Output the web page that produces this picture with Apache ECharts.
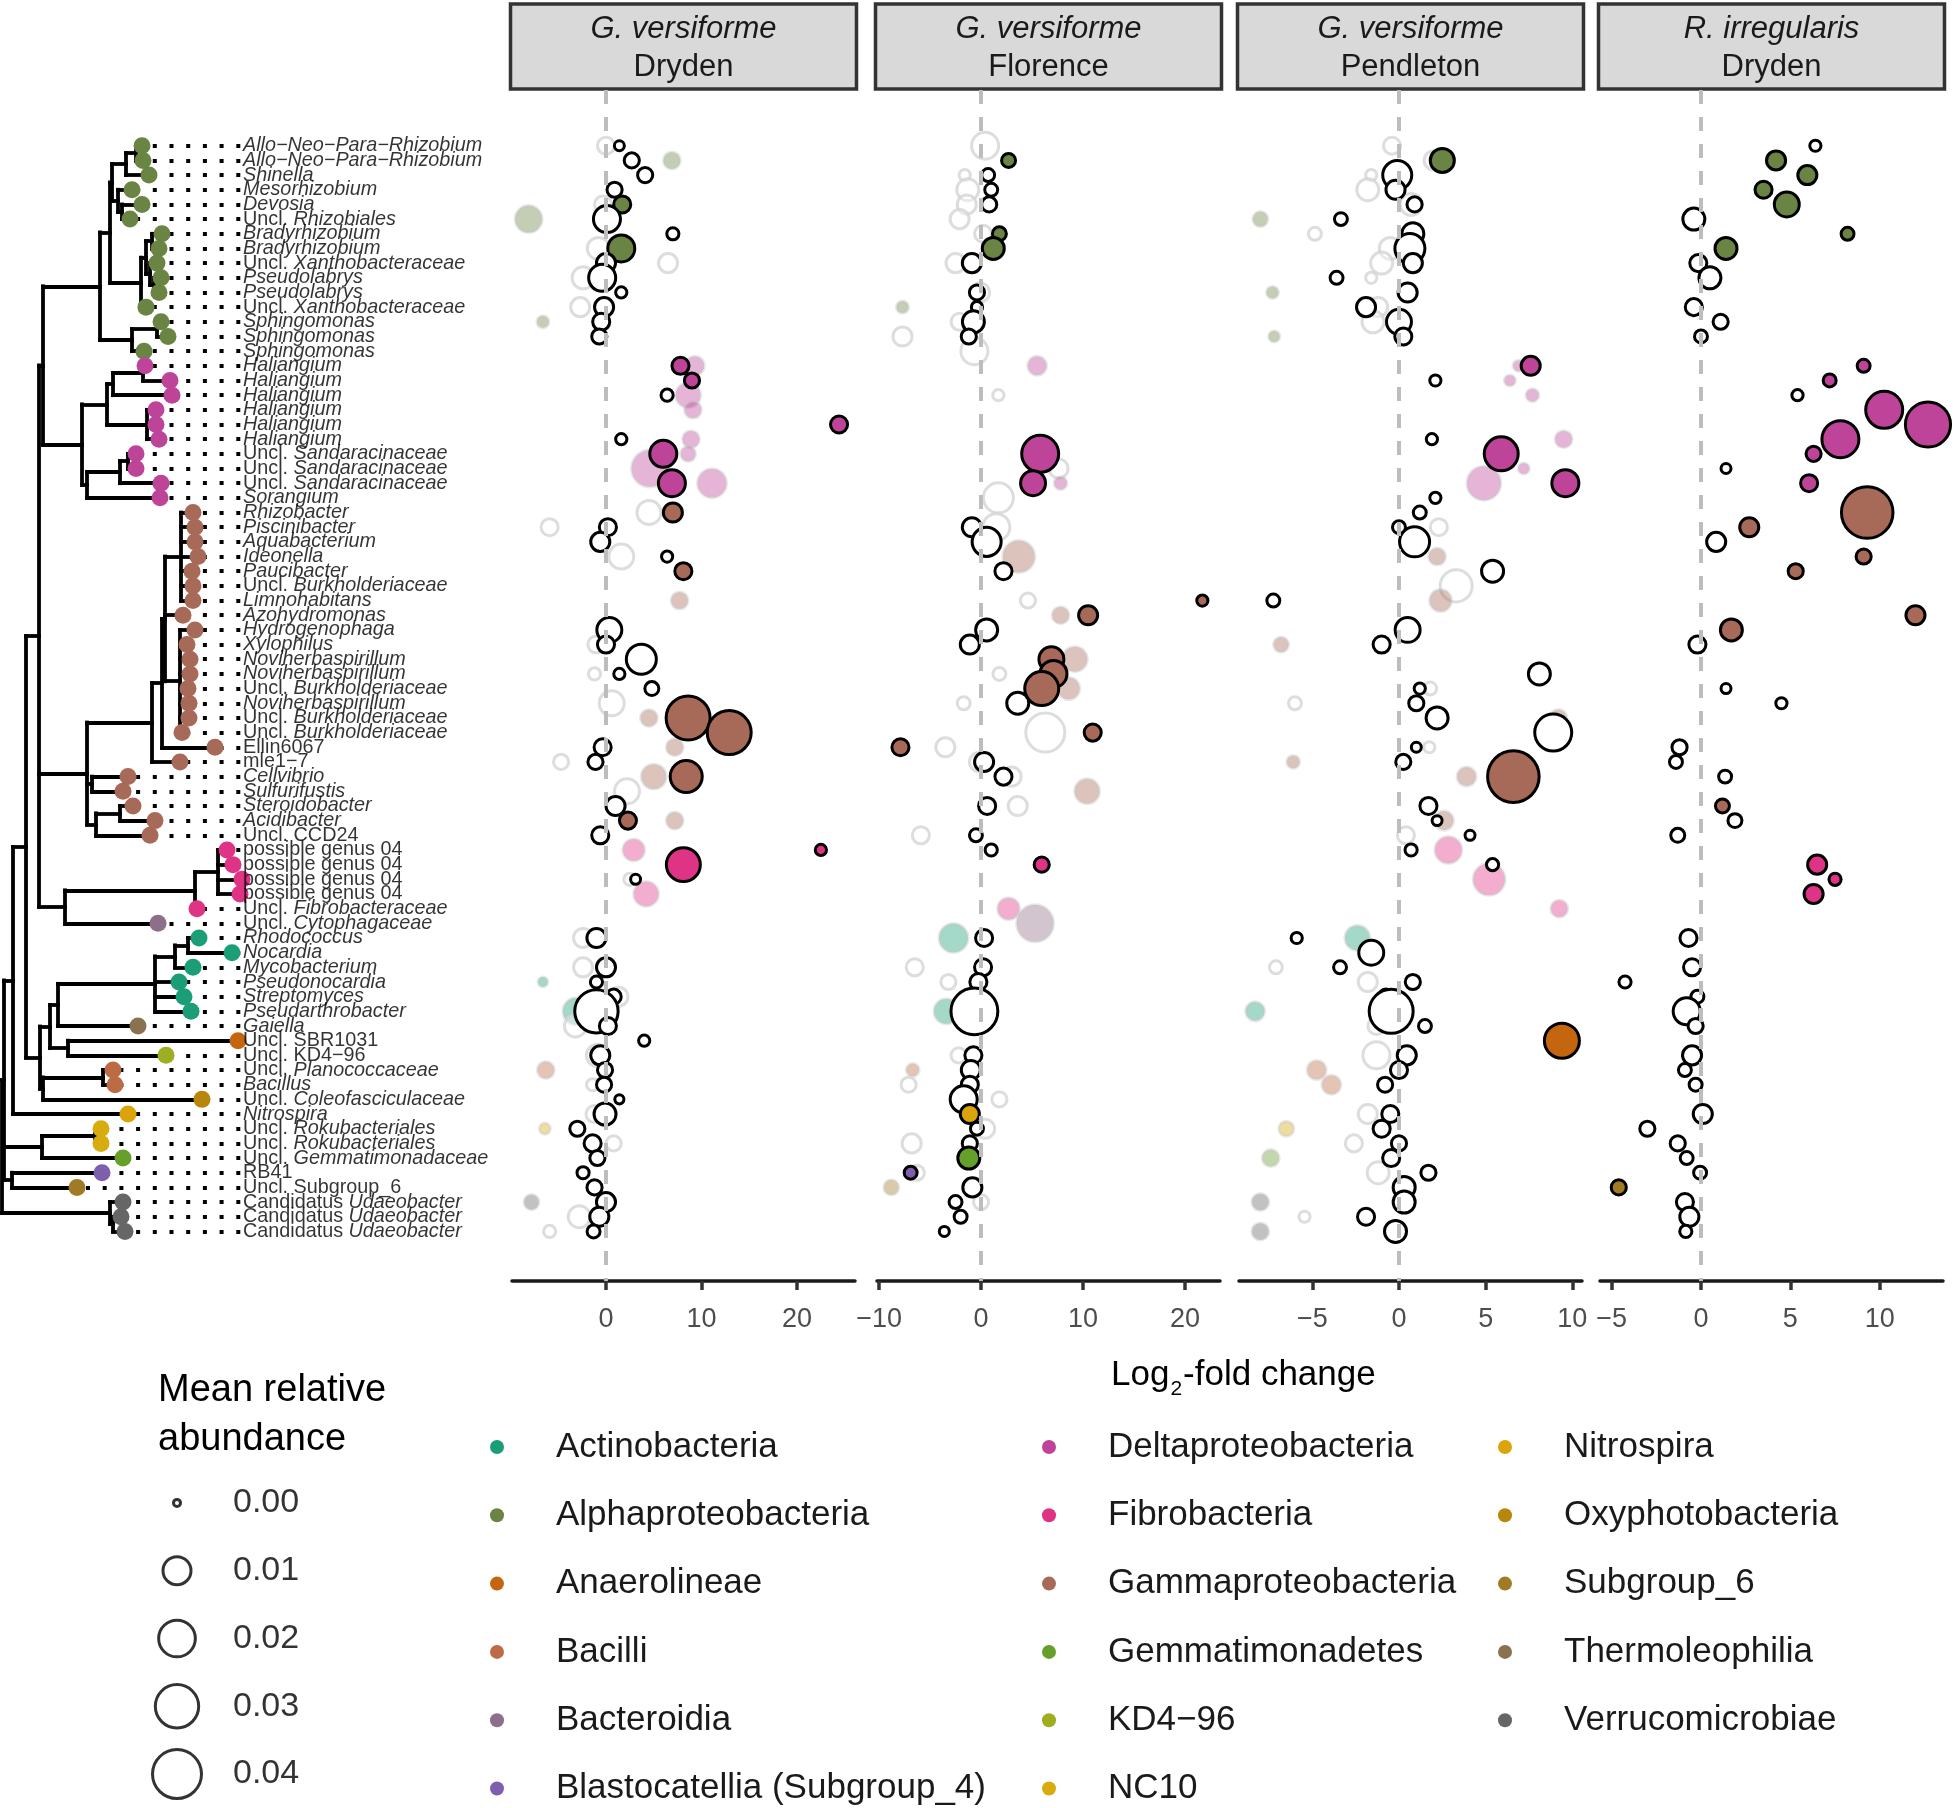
<!DOCTYPE html>
<html><head><meta charset="utf-8">
<script src="https://cdn.jsdelivr.net/npm/echarts@6/dist/echarts.min.js"></script>
<style>html,body{margin:0;padding:0;background:#fff}#c{width:1954px;height:1808px}</style>
</head><body><div id="c"></div>
<script>
// ---------------- data ----------------
const classNames = ['Actinobacteria','Alphaproteobacteria','Anaerolineae','Bacilli','Bacteroidia','Blastocatellia (Subgroup_4)',
  'Deltaproteobacteria','Fibrobacteria','Gammaproteobacteria','Gemmatimonadetes','KD4\u221296','NC10',
  'Nitrospira','Oxyphotobacteria','Subgroup_6','Thermoleophilia','Verrucomicrobiae'];
const classColors = ['#1b9e77','#6a8443','#c4650f','#bd6b45','#8e6f89','#7e5fad','#bd4499','#df3386','#a86a58',
  '#65a12a','#9eae1e','#d8ab0f','#dba30c','#b8860b','#a07a25','#8a7150','#666666'];

const taxa = [
 '*Allo\u2212Neo\u2212Para\u2212Rhizobium*','*Allo\u2212Neo\u2212Para\u2212Rhizobium*','*Shinella*','*Mesorhizobium*','*Devosia*',
 'Uncl. *Rhizobiales*','*Bradyrhizobium*','*Bradyrhizobium*','Uncl. *Xanthobacteraceae*','*Pseudolabrys*',
 '*Pseudolabrys*','Uncl. *Xanthobacteraceae*','*Sphingomonas*','*Sphingomonas*','*Sphingomonas*',
 '*Haliangium*','*Haliangium*','*Haliangium*','*Haliangium*','*Haliangium*','*Haliangium*',
 'Uncl. *Sandaracinaceae*','Uncl. *Sandaracinaceae*','Uncl. *Sandaracinaceae*','*Sorangium*',
 '*Rhizobacter*','*Piscinibacter*','*Aquabacterium*','*Ideonella*','*Paucibacter*','Uncl. *Burkholderiaceae*',
 '*Limnohabitans*','*Azohydromonas*','*Hydrogenophaga*','*Xylophilus*','*Noviherbaspirillum*','*Noviherbaspirillum*',
 'Uncl. *Burkholderiaceae*','*Noviherbaspirillum*','Uncl. *Burkholderiaceae*','Uncl. *Burkholderiaceae*',
 'Ellin6067','mle1\u22127','*Cellvibrio*','*Sulfurifustis*','*Steroidobacter*','*Acidibacter*','Uncl. CCD24',
 'possible genus 04','possible genus 04','possible genus 04','possible genus 04',
 'Uncl. *Fibrobacteraceae*','Uncl. *Cytophagaceae*','*Rhodococcus*','*Nocardia*','*Mycobacterium*',
 '*Pseudonocardia*','*Streptomyces*','*Pseudarthrobacter*','*Gaiella*','Uncl. SBR1031','Uncl. KD4\u221296',
 'Uncl. *Planococcaceae*','*Bacillus*','Uncl. *Coleofasciculaceae*','*Nitrospira*','Uncl. *Rokubacteriales*',
 'Uncl. *Rokubacteriales*','Uncl. *Gemmatimonadaceae*','RB41','Uncl. Subgroup_6',
 'Candidatus *Udaeobacter*','Candidatus *Udaeobacter*','Candidatus *Udaeobacter*'];

const tipClass = [1,1,1,1,1,1,1,1,1,1,1,1,1,1,1,
 6,6,6,6,6,6,6,6,6,6,
 8,8,8,8,8,8,8,8,8,8,8,8,8,8,8,8,8,8,8,8,8,8,8,
 7,7,7,7,7,4,0,0,0,0,0,0,15,2,10,3,3,13,12,11,11,9,5,14,16,16,16];

// tree: (children):nodeDepth ; tips are row numbers with their depth
const treeAlpha = '(((((1:142,2:143):136,3:149):126,(4:132,(5:142,6:130):122):118):112,(((7:162,8:159):152,(9:157,(10:161,11:159):154):150):146,12:146):141):110,((13:161,14:168):157,15:144):132):100';
const treeDelta = '((((16:145,17:170):143,18:172):113,(19:156,20:156,21:159):147):107,(((22:136,23:136):128,24:161):120,25:160):87):82';
const treeGamma = '((((26:193,27:195,28:195,29:198,30:192,31:193,32:193):181,33:183,(34:195,35:187,36:190,37:190,38:188,39:189,40:189,41:182):180):165,42:215):162,43:180):152';
const treeGamma2 = '(' + treeGamma + ',(44:128,45:123):92,((46:133,47:155):120,48:150):96):87';
const treeFibro = '(((49:227,50:233,51:242,52:240):218,53:197):195,54:158):65';
const treeActino = '((((((55:199,56:232):188,57:193):175,58:179,59:184,60:191):155,61:138):58,(62:238,63:166):68):50,((64:113,65:115):103,66:202):43):40';
const treeNewick = '((((((' + treeAlpha + ',' + treeDelta + '):43,' + treeGamma2 + ',' + treeFibro + '):39,' + treeActino +
  '):26,67:128):13,((68:101,69:101):95,70:123):42,(71:102,72:77):12):4,(73:123,(74:121,75:125):113):110):2';

const panelFungus = ['G. versiforme','G. versiforme','G. versiforme','R. irregularis'];
const panelSite = ['Dryden','Florence','Pendleton','Dryden'];
const panelTicks = [[0,10,20],[-10,0,10,20],[-5,0,5,10],[-5,0,5,10]];
const sizeBreaks = [0.00,0.01,0.02,0.03,0.04];

// [row, log2FC, mean relative abundance, significant]
const p1Main = [[1,1.4,0.0002,0],[2,2.7,0.0015,0],[3,4.1,0.0015,0],[4,0.9,0.0015,0],[5,1.7,0.0023,1],[6,0.1,0.0091,0],
 [7,7.0,0.0006,0],[8,1.6,0.0091,1],[9,0.0,0.0033,0],[10,-0.4,0.0091,0],[11,1.6,0.0004,0],[12,-0.2,0.0033,0],
 [13,-0.5,0.0023,0],[14,-0.7,0.0015,0],[16,7.8,0.0023,1],[17,9.0,0.0015,1],[18,6.4,0.0006,0],[20,24.4,0.0023,1],
 [21,1.6,0.0004,0],[22,6.0,0.0091,1],[24,6.9,0.0091,1],[26,7.0,0.0033,1],[27,0.2,0.0023,0],[28,-0.6,0.0033,0],
 [29,6.4,0.0004,0],[30,8.1,0.0023,1],[34,0.35,0.0073,0],[35,0.0,0.0023,0],[36,3.7,0.012,0],[37,1.4,0.0004,0],
 [38,4.8,0.0011,0],[40,8.6,0.031,1],[41,12.9,0.031,1],[42,-0.35,0.0023,0],[43,-1.1,0.0015,0],[44,8.4,0.0142,1],
 [46,1.0,0.0033,0],[47,2.3,0.0023,1],[48,-0.6,0.0023,0],[49,22.5,0.0004,1],[50,8.1,0.0165,1],[51,3.1,0.0002,0],
 [55,-1.0,0.0033,0],[57,0.0,0.0033,0],[58,-1.0,0.0006,0],[59,0.8,0.0015,0],[60,-1.0,0.030,0],[61,0.2,0.0023,0],
 [62,4.0,0.0004,0],[63,-0.6,0.0033,0],[64,-0.1,0.0015,0],[65,-0.2,0.0015,0],[66,1.4,0.0001,0],[67,-0.1,0.0051,0],
 [68,-3.0,0.0015,0],[69,-1.4,0.0023,0],[70,-0.9,0.0015,0],[71,-2.4,0.0006,0],[72,-1.2,0.0015,0],[73,0.0,0.0033,0],
 [74,-0.7,0.0033,0],[75,-1.3,0.0008,0]];
const p1Faded = [[1,0.0,0.0023,0],[2,6.9,0.0023,1],[5,-0.3,0.0023,0],[6,-8.1,0.0091,1],[8,-0.8,0.0051,0],[9,6.5,0.0033,0],
 [10,-2.4,0.0051,0],[12,-2.7,0.0033,0],[13,-6.6,0.0006,1],[16,9.3,0.0033,1],[18,8.6,0.0073,1],[19,9.1,0.0023,1],
 [21,8.9,0.0023,1],[22,8.6,0.0015,1],[23,4.6,0.0204,1],[24,11.1,0.011,1],[26,4.5,0.0066,0],[27,-5.9,0.0023,0],
 [29,1.6,0.0073,0],[32,7.7,0.0023,1],[35,-1.0,0.0023,0],[37,-1.2,0.0006,0],[39,0.6,0.0073,0],[40,4.5,0.0023,1],
 [42,7.2,0.0023,1],[43,-4.7,0.0015,0],[44,5.0,0.0073,1],[45,2.2,0.0073,0],[47,7.2,0.0023,1],[49,2.9,0.0051,1],
 [51,2.5,0.0006,0],[52,4.2,0.0073,1],[55,-2.4,0.0033,0],[57,-2.4,0.0033,0],[58,-6.6,0.0002,1],[59,1.3,0.0033,0],
 [60,-3.1,0.0091,1],[61,-3.2,0.0051,0],[63,-0.9,0.0051,0],[64,-6.3,0.0023,1],[65,-1.4,0.0006,0],[67,-1.2,0.0023,0],
 [68,-6.4,0.0004,1],[69,0.8,0.0015,0],[73,-7.8,0.0015,1],[74,-2.8,0.0051,0],[75,-5.9,0.0006,0]];

const p2Main = [[2,2.7,0.0011,1],[3,0.7,0.0008,0],[4,1.0,0.0008,0],[5,0.8,0.0015,0],[7,1.8,0.0011,1],[8,1.2,0.0051,1],
 [9,-0.9,0.0033,0],[11,-0.4,0.0015,0],[12,-0.4,0.0004,0],[13,-0.75,0.0051,0],[14,-1.2,0.0015,0],[22,5.8,0.0204,1],
 [24,5.1,0.0073,1],[27,-0.9,0.0033,0],[28,0.55,0.011,0],[30,2.2,0.0023,0],[32,21.7,0.0004,1],[33,10.5,0.0033,1],
 [34,0.55,0.0051,0],[35,-1.1,0.0033,0],[36,6.9,0.0073,1],[37,7.1,0.0091,1],[38,5.95,0.0165,1],[39,3.6,0.0051,0],
 [41,10.95,0.0023,1],[42,-7.9,0.0023,1],[43,0.3,0.0033,0],[44,2.2,0.0023,0],[46,0.6,0.0023,0],[48,-0.5,0.0008,0],
 [49,1.0,0.0006,0],[50,5.95,0.0015,1],[55,0.3,0.0023,0],[57,0.2,0.0023,0],[58,-0.26,0.0023,0],[59,-0.2,0.0015,0],
 [60,-0.65,0.036,0],[63,-0.75,0.0023,0],[64,-1.0,0.0033,0],[65,-1.1,0.0023,0],[66,-1.7,0.0091,0],[67,-1.1,0.0033,1],
 [68,-0.4,0.0008,0],[69,-1.1,0.0015,0],[70,-1.2,0.0051,1],[71,-6.9,0.0008,1],[72,-0.85,0.0033,0],[73,-2.5,0.0008,0],
 [74,-2.0,0.0008,0],[75,-3.6,0.0002,0]];
const p2Faded = [[1,0.4,0.0091,0],[3,-1.6,0.0004,0],[4,-1.3,0.0051,0],[5,-1.4,0.0033,0],[6,-2.1,0.0033,0],[7,0.2,0.0023,0],
 [9,-2.5,0.0033,0],[11,-0.1,0.0033,0],[12,-7.7,0.0006,1],[13,-2.1,0.0023,0],[14,-7.7,0.0033,0],[15,-0.65,0.0091,0],
 [16,5.5,0.0033,1],[18,1.7,0.0004,0],[23,7.6,0.0033,0],[24,7.8,0.0008,1],[25,1.7,0.012,0],[27,1.5,0.0091,0],
 [29,3.7,0.0142,1],[30,2.2,0.0023,1],[32,4.6,0.0015,0],[33,7.8,0.0023,1],[36,9.2,0.0073,1],[37,1.8,0.0008,0],
 [38,8.6,0.0051,1],[39,-1.7,0.0008,0],[41,6.3,0.0232,0],[42,-3.5,0.0033,0],[43,-0.2,0.0033,0],[44,3.0,0.0033,0],
 [45,10.4,0.0073,1],[46,3.6,0.0033,0],[48,-5.9,0.0023,0],[53,2.7,0.0051,1],[54,5.3,0.0204,1],[55,-2.7,0.011,1],
 [57,-6.5,0.0023,0],[58,-3.2,0.0015,0],[60,-3.4,0.0073,1],[63,-2.2,0.0015,0],[64,-6.7,0.0008,1],[65,-7.1,0.0015,0],
 [66,1.8,0.0015,0],[68,0.4,0.0033,0],[69,-6.8,0.0033,0],[71,-6.3,0.0015,0],[72,-8.8,0.0015,1],[73,0.0,0.0015,0]];

const p3Main = [[2,2.5,0.0066,1],[3,-0.1,0.011,0],[4,-0.2,0.0033,0],[5,0.9,0.0015,0],[6,-3.35,0.0008,0],[7,0.8,0.0051,0],
 [8,0.63,0.012,0],[9,0.8,0.0033,0],[10,-3.6,0.0008,0],[11,0.5,0.0033,0],[12,-1.9,0.0033,0],[13,0.0,0.0073,0],
 [14,0.25,0.0023,0],[16,7.6,0.0033,1],[17,2.1,0.0004,0],[21,1.9,0.0004,0],[22,5.9,0.0165,1],[24,9.6,0.0091,1],
 [25,2.1,0.0004,0],[26,1.2,0.0008,0],[27,0.0,0.0008,0],[28,0.9,0.012,0],[30,5.4,0.0051,0],[32,-7.25,0.0008,0],
 [34,0.5,0.0073,0],[35,-1.0,0.0023,0],[37,8.1,0.0051,0],[38,1.2,0.0004,0],[39,1.0,0.0015,0],[40,2.2,0.0051,0],
 [41,8.9,0.0204,0],[42,1.0,0.0002,0],[43,0.25,0.0015,0],[44,6.6,0.045,1],[46,1.7,0.0023,0],[47,2.2,0.0002,0],
 [48,4.1,0.0002,0],[49,0.7,0.0006,0],[50,5.4,0.0006,0],[55,-5.9,0.0004,0],[56,-1.6,0.0073,0],[57,-3.4,0.0008,0],
 [58,0.8,0.0015,0],[59,-0.75,0.0015,0],[60,-0.45,0.031,0],[61,1.5,0.0008,0],[62,9.4,0.0178,1],[63,0.45,0.0033,0],
 [64,0.0,0.0023,0],[65,-0.8,0.0015,0],[67,-0.5,0.0023,0],[68,-1.0,0.0023,0],[69,0.0,0.0015,0],[70,-0.45,0.0023,0],
 [71,1.7,0.0015,0],[72,0.3,0.0051,0],[73,0.3,0.0051,0],[74,-1.9,0.0023,0],[75,-0.2,0.0051,0]];
const p3Faded = [[1,-0.4,0.0023,0],[2,2.0,0.0033,0],[3,-1.6,0.0004,0],[4,-1.8,0.0051,0],[5,0.7,0.0051,0],[6,-8.0,0.0015,1],
 [7,-4.85,0.0008,0],[8,-0.5,0.0051,0],[9,-1.0,0.0051,0],[10,-1.6,0.0004,0],[11,-7.3,0.0006,1],[12,-1.2,0.0033,0],
 [13,-1.5,0.0051,0],[14,-7.2,0.0004,1],[16,6.9,0.0004,1],[17,6.4,0.0004,1],[18,7.7,0.0008,1],[21,9.5,0.0023,1],
 [23,7.2,0.0004,1],[24,4.9,0.0165,1],[27,2.3,0.0023,0],[29,2.2,0.0023,1],[31,3.3,0.0142,0],[32,2.4,0.0051,1],
 [35,-6.8,0.0015,1],[38,1.8,0.0008,0],[39,-6.0,0.0008,0],[40,9.2,0.0023,1],[42,1.75,0.0004,0],[43,-6.1,0.0008,1],
 [44,3.9,0.0033,1],[47,2.6,0.0033,1],[48,0.4,0.0023,0],[49,2.85,0.0091,1],[51,5.2,0.0142,1],[53,9.25,0.0023,1],
 [55,-2.4,0.0073,1],[57,-7.1,0.0008,0],[58,-1.8,0.0033,0],[60,-8.3,0.0033,1],[61,-1.3,0.0023,0],[63,-1.3,0.0091,0],
 [64,-4.75,0.0033,1],[65,-3.9,0.0033,1],[67,-1.8,0.0033,0],[68,-6.5,0.0015,1],[69,-2.6,0.0023,0],[70,-7.4,0.0023,1],
 [71,-1.2,0.0051,0],[73,-8.0,0.0023,1],[74,-5.45,0.0004,0],[75,-8.0,0.0023,1]];

const p4Main = [[1,6.4,0.0004,0],[2,4.2,0.0033,1],[3,5.95,0.0033,1],[4,3.5,0.0023,1],[5,4.8,0.0073,1],[6,-0.4,0.0051,0],
 [7,8.2,0.0008,1],[8,1.4,0.0051,1],[9,-0.15,0.0023,0],[10,0.5,0.0051,0],[12,-0.4,0.0023,0],[13,1.1,0.0015,0],
 [14,0.0,0.0008,0],[16,9.1,0.0008,1],[17,7.2,0.0008,1],[18,5.4,0.0004,0],[19,10.25,0.0204,1],[20,12.7,0.033,1],
 [21,7.8,0.0204,1],[22,6.3,0.0015,1],[23,1.4,0.0002,0],[24,6.05,0.0023,1],[26,9.3,0.045,1],[27,2.7,0.0033,1],
 [28,0.85,0.0033,0],[29,9.1,0.0015,1],[30,5.3,0.0015,1],[33,12.0,0.0033,1],[34,1.7,0.0051,1],[35,-0.2,0.0023,0],
 [38,1.4,0.0002,0],[39,4.5,0.0004,0],[42,-1.2,0.0015,0],[43,-1.4,0.0008,0],[44,1.35,0.0008,0],[46,1.2,0.0011,1],
 [47,1.9,0.0011,0],[48,-1.3,0.0011,0],[50,6.5,0.0033,1],[51,7.5,0.0006,1],[52,6.3,0.0033,1],[55,-0.7,0.0023,0],
 [57,-0.5,0.0023,0],[58,-4.25,0.0006,0],[59,-0.2,0.0008,0],[60,-0.8,0.0091,0],[61,-0.3,0.0015,0],[63,-0.5,0.0033,0],
 [64,-0.9,0.0008,0],[65,-0.3,0.0008,0],[67,0.1,0.0033,0],[68,-3.0,0.0015,0],[69,-1.3,0.0015,0],[70,-0.8,0.0008,0],
 [71,-0.05,0.0008,0],[72,-4.6,0.0015,1],[73,-0.9,0.0023,0],[74,-0.65,0.0033,0],[75,-0.85,0.0006,0]];
const p4Faded = [];

// ---------------- layout (not data) ----------------
const FONT = '"Liberation Sans", Arial, Helvetica, sans-serif';
const plotTop = 90, plotH = 1191;
const rowRange = [-2.8, 78.38];
const panelLeft = [512, 877, 1239, 1600], panelW = 343;
const panelRange = [[-9.84, 26.07], [-10.2, 23.43], [-9.23, 10.56], [-5.65, 13.54]];
const treeW = 245, leaderEnd = 240.3, labelX = 243;

function sz(v) { return 10 + 42 * Math.sqrt(v / 0.04) - 3; }
function fade(hex, a) {
  const n = parseInt(hex.slice(1), 16);
  return 'rgba(' + (n >> 16) + ',' + ((n >> 8) & 255) + ',' + (n & 255) + ',' + a + ')';
}
function toRich(s) {
  const parts = s.split('*'); let out = '';
  parts.forEach((p, k) => { if (p.length) out += '{' + (k % 2 ? 'i' : 'n') + '|' + p + '}'; });
  return out;
}
function parseTree(s) {
  let i = 0;
  function node() {
    const n = { children: [] };
    if (s[i] === '(') {
      i++;
      while (true) { n.children.push(node()); if (s[i] === ',') { i++; continue; } if (s[i] === ')') { i++; break; } }
    } else {
      const j = i; while (/[0-9]/.test(s[i])) i++; n.row = parseInt(s.slice(j, i));
    }
    if (s[i] === ':') { i++; const j = i; while (/[0-9.]/.test(s[i])) i++; n.depth = parseFloat(s.slice(j, i)); }
    return n;
  }
  return node();
}
const root = parseTree(treeNewick);
(function lay(n) {
  if (n.row) { n.y = n.row; return; }
  n.children.forEach(lay);
  n.y = (n.children[0].y + n.children[n.children.length - 1].y) / 2;
})(root);
const treeSegs = [], tips = [];
(function walk(n) {
  if (n.row) { tips.push(n); return; }
  treeSegs.push({ coords: [[n.depth, n.children[0].y], [n.depth, n.children[n.children.length - 1].y]] });
  n.children.forEach(c => { treeSegs.push({ coords: [[n.depth, c.y], [c.depth, c.y]] }); walk(c); });
})(root);

const grids = [{ left: 0, top: plotTop, width: treeW, height: plotH }];
const xAxes = [{ gridIndex: 0, type: 'value', min: 0, max: treeW, show: false }];
const yAxes = [{ gridIndex: 0, type: 'value', min: rowRange[0], max: rowRange[1], inverse: true, show: false }];
panelLeft.forEach((l, p) => {
  grids.push({ left: l, top: plotTop, width: panelW, height: plotH });
  xAxes.push({
    gridIndex: p + 1, type: 'value', min: panelRange[p][0], max: panelRange[p][1], position: 'bottom',
    splitLine: { show: false },
    axisLine: { show: true, onZero: false, lineStyle: { color: '#1a1a1a', width: 3.5 } },
    axisTick: { show: true, customValues: panelTicks[p], length: 9, lineStyle: { color: '#333', width: 3.5 } },
    axisLabel: { customValues: panelTicks[p], margin: 25, fontSize: 27, color: '#4d4d4d', fontFamily: FONT,
      formatter: v => (v < 0 ? '\u2212' + Math.abs(v) : String(v)) }
  });
  yAxes.push({ gridIndex: p + 1, type: 'value', min: rowRange[0], max: rowRange[1], inverse: true, show: false });
});
// size legend grid
grids.push({ left: 137, top: 1469, width: 110, height: 341 });
xAxes.push({ gridIndex: 5, type: 'value', min: 0, max: 11, show: false });
yAxes.push({ gridIndex: 5, type: 'value', min: 0, max: 5, inverse: true, show: false });

const series = [];
series.push({ type: 'lines', coordinateSystem: 'cartesian2d', xAxisIndex: 0, yAxisIndex: 0, polyline: false, silent: true,
  data: tips.filter(t => t.depth < leaderEnd).map(t => ({ coords: [[leaderEnd, t.row], [t.depth, t.row]] })),
  lineStyle: { color: '#000', width: 4, type: [4, 12.7], cap: 'butt', opacity: 1 }, z: 1 });
series.push({ type: 'lines', coordinateSystem: 'cartesian2d', xAxisIndex: 0, yAxisIndex: 0, polyline: false, silent: true,
  data: treeSegs, lineStyle: { color: '#000', width: 3.8, cap: 'square', opacity: 1 }, z: 2 });
classNames.forEach((c, k) => {
  series.push({ type: 'scatter', name: c, xAxisIndex: 0, yAxisIndex: 0, symbolSize: 17, silent: true,
    itemStyle: { color: classColors[k], opacity: 1 },
    data: tips.filter(t => tipClass[t.row - 1] === k).map(t => [t.depth, t.row]), z: 4 });
});
series.push({ type: 'scatter', xAxisIndex: 0, yAxisIndex: 0, symbolSize: 0.01, silent: true,
  itemStyle: { color: 'rgba(0,0,0,0)' },
  data: taxa.map((t, i) => ({ value: [labelX, i + 1], label: { formatter: toRich(t) } })),
  label: { show: true, position: 'right', distance: 0, color: '#000', fontSize: 19.8, fontFamily: FONT,
    rich: { n: { fontSize: 19.8, fontFamily: FONT, color: '#000' },
            i: { fontSize: 19.8, fontFamily: FONT, color: '#000', fontStyle: 'italic' } } }, z: 5 });

const mains = [p1Main, p2Main, p3Main, p4Main];
const fadeds = [p1Faded, p2Faded, p3Faded, p4Faded];
for (let p = 0; p < 4; p++) {
  series.push({ type: 'scatter', xAxisIndex: p + 1, yAxisIndex: p + 1, data: [], silent: true, z: 1,
    markLine: { silent: true, symbol: ['none', 'none'], label: { show: false }, animation: false,
      lineStyle: { color: '#bdbdbd', width: 4, type: [14, 13] }, data: [{ xAxis: 0 }] } });
  series.push({ type: 'scatter', xAxisIndex: p + 1, yAxisIndex: p + 1, silent: true, z: 2, clip: false,
    data: fadeds[p].map(d => ({ value: [d[1], d[0]], symbolSize: sz(d[2]),
      itemStyle: d[3] ? { color: fade(classColors[tipClass[d[0] - 1]], 0.5), borderColor: 'rgba(200,200,200,0.5)', borderWidth: 3 }
                      : { color: 'rgba(255,255,255,0.5)', borderColor: '#d4d4d4', borderWidth: 3 } })) });
  series.push({ type: 'scatter', xAxisIndex: p + 1, yAxisIndex: p + 1, silent: true, z: 3, clip: false,
    data: mains[p].map(d => ({ value: [d[1], d[0]], symbolSize: sz(d[2]),
      itemStyle: { color: d[3] ? classColors[tipClass[d[0] - 1]] : '#ffffff', borderColor: '#000', borderWidth: 3, opacity: 1 } })) });
}
// size legend
series.push({ type: 'scatter', xAxisIndex: 5, yAxisIndex: 5, silent: true,
  data: sizeBreaks.map((b, k) => ({ value: [4, k + 0.5], symbolSize: sz(b) })),
  itemStyle: { color: '#fff', borderColor: '#000', borderWidth: 3 } });
series.push({ type: 'scatter', xAxisIndex: 5, yAxisIndex: 5, silent: true, symbolSize: 0.01,
  itemStyle: { color: 'rgba(0,0,0,0)' },
  data: sizeBreaks.map((b, k) => ({ value: [9.6, k + 0.5], label: { formatter: b.toFixed(2) } })),
  label: { show: true, position: 'right', distance: 0, fontSize: 34, color: '#000', fontFamily: FONT } });

const graphic = [];
panelLeft.forEach((l, p) => {
  graphic.push({ type: 'rect', shape: { x: l - 1.5, y: 4, width: panelW + 3, height: 85 }, silent: true,
    style: { fill: '#d9d9d9', stroke: '#333333', lineWidth: 3.5 } });
  graphic.push({ type: 'text', x: l + panelW / 2, y: 29, silent: true,
    style: { text: panelFungus[p], fontSize: 31, fontStyle: 'italic', fontFamily: FONT, fill: '#1a1a1a',
      textAlign: 'center', textVerticalAlign: 'middle', align: 'center', verticalAlign: 'middle' } });
  graphic.push({ type: 'text', x: l + panelW / 2, y: 67, silent: true,
    style: { text: panelSite[p], fontSize: 31, fontFamily: FONT, fill: '#1a1a1a',
      textAlign: 'center', textVerticalAlign: 'middle', align: 'center', verticalAlign: 'middle' } });
});

const legendBase = { orient: 'vertical', selectedMode: false, icon: 'circle', itemWidth: 14, itemHeight: 14,
  itemGap: 28.3, padding: 0, height: 440,
  textStyle: { fontSize: 35, color: '#1a1a1a', fontFamily: FONT, lineHeight: 40, padding: [0, 0, 0, 47] } };

const option = {
  backgroundColor: '#ffffff',
  animation: false,
  grid: grids, xAxis: xAxes, yAxis: yAxes, series: series, graphic: graphic,
  title: [
    { text: 'Mean relative\nabundance', left: 158, top: 1366, padding: 0,
      textStyle: { fontSize: 38, fontWeight: 'normal', lineHeight: 49, color: '#000', fontFamily: FONT } },
    { text: '{a|Log}{b|2}{a|-fold change}', left: 1111, top: 1358, padding: 0,
      textStyle: { fontWeight: 'normal', rich: {
        a: { fontSize: 35, lineHeight: 42, verticalAlign: 'top', color: '#000', fontFamily: FONT },
        b: { fontSize: 21, lineHeight: 21, verticalAlign: 'bottom', padding: [23, 1, 0, 1], color: '#000', fontFamily: FONT } } } }
  ],
  legend: [
    Object.assign({}, legendBase, { left: 490, top: 1427, data: classNames.slice(0, 6) }),
    Object.assign({}, legendBase, { left: 1042, top: 1427, data: classNames.slice(6, 12) }),
    Object.assign({}, legendBase, { left: 1498, top: 1427, data: classNames.slice(12) })
  ]
};
const chart = echarts.init(document.getElementById('c'), null, { renderer: 'canvas' });
chart.setOption(option);
</script></body></html>
